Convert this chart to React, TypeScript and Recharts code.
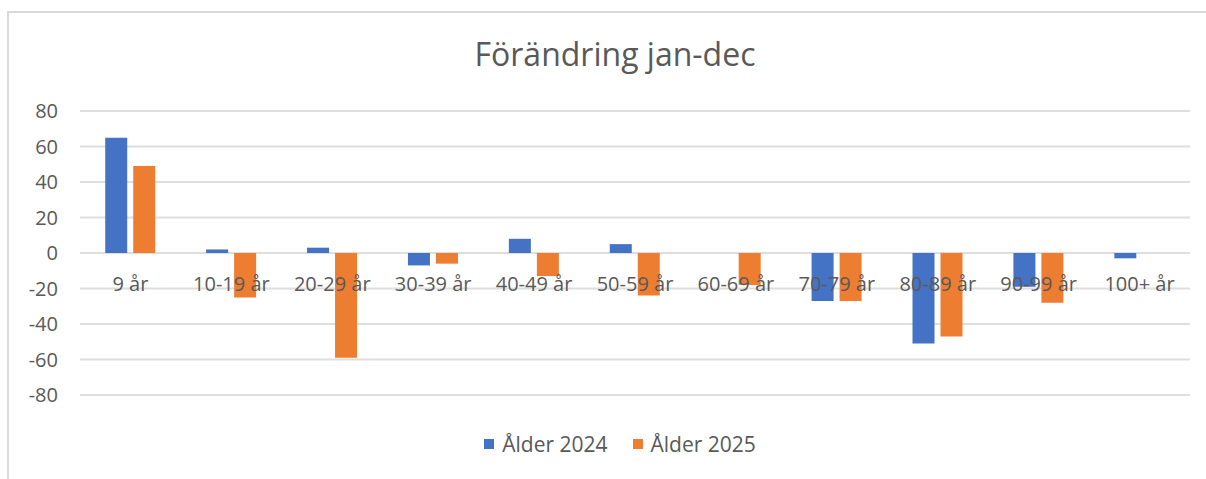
import React from 'react';
import { BarChart, Bar, XAxis, YAxis, CartesianGrid, Legend } from 'recharts';

const categories = ['9 år', '10-19 år', '20-29 år', '30-39 år', '40-49 år', '50-59 år', '60-69 år', '70-79 år', '80-89 år', '90-99 år', '100+ år'];
const alder2024 = [65, 2, 3, -7, 8, 5, 0, -27, -51, -19, -3];
const alder2025 = [49, -25, -59, -6, -13, -24, -18, -27, -47, -28, 0];
const yTicks = [-80, -60, -40, -20, 0, 20, 40, 60, 80];
const seriesNames = ['Ålder 2024', 'Ålder 2025'];

const data = categories.map((name, i) => ({
  name,
  a2024: alder2024[i],
  a2025: alder2025[i],
}));

const W = 1206;
const H = 479;
const margin = { top: 111, right: 16, left: 20, bottom: 54 };
const xAxisHeight = 30;
const plotH = H - margin.top - margin.bottom - xAxisHeight;
const yMin = -80;
const yMax = 80;
const zeroY = margin.top + (plotH * yMax) / (yMax - yMin);
const font = '"Open Sans", sans-serif';
const gray = '#595959';

const CategoryTick = (props: any) => {
  const { x, payload } = props;
  return (
    <text x={x} y={zeroY + 38} textAnchor="middle" fill={gray} fontSize={20} fontFamily={font}>
      {payload.value}
    </text>
  );
};

const LegendContent = (props: any) => {
  const { payload } = props;
  return (
    <div style={{ display: 'flex', justifyContent: 'center', fontFamily: font, fontSize: 21, color: gray }}>
      {(payload || []).map((p: any, i: number) => (
        <div key={i} style={{ display: 'flex', alignItems: 'center', marginRight: i === 0 ? 25 : 0 }}>
          <span style={{ display: 'inline-block', width: 10, height: 10, background: p.color, marginRight: 8 }} />
          <span>{p.value}</span>
        </div>
      ))}
    </div>
  );
};

export default function App() {
  return (
    <div style={{ position: 'absolute', left: 0, top: 0, width: W, height: H, background: '#fff' }}>
      <div
        style={{
          position: 'absolute',
          left: 7,
          top: 11,
          right: 0,
          bottom: 0,
          borderTop: '2px solid #d9d9d9',
          borderLeft: '2px solid #d9d9d9',
        }}
      />
      <div
        style={{
          position: 'absolute',
          left: 0,
          top: 34,
          width: 1230,
          textAlign: 'center',
          fontFamily: font,
          fontSize: 32,
          color: gray,
          lineHeight: '40px',
        }}
      >
        Förändring jan-dec
      </div>
      <div style={{ position: 'absolute', left: 0, top: 0 }}>
        <BarChart width={W} height={H} data={data} margin={margin} barCategoryGap="25%" barGap={6}>
          <CartesianGrid vertical={false} stroke="#dedede" strokeWidth={2} />
          <YAxis
            domain={[yMin, yMax]}
            ticks={yTicks}
            interval={0}
            width={60}
            axisLine={false}
            tickLine={false}
            tickMargin={16}
            tick={{ fill: gray, fontSize: 20, fontFamily: font }}
          />
          <Bar dataKey="a2024" name={seriesNames[0]} fill="#4472C4" isAnimationActive={false} />
          <Bar dataKey="a2025" name={seriesNames[1]} fill="#ED7D31" isAnimationActive={false} />
          <XAxis
            dataKey="name"
            height={xAxisHeight}
            axisLine={false}
            tickLine={false}
            interval={0}
            tick={<CategoryTick />}
          />
          <Legend
            layout="horizontal"
            verticalAlign="middle"
            align="center"
            content={<LegendContent />}
            wrapperStyle={{ top: 430, left: 0, width: 1240 }}
          />
        </BarChart>
      </div>
    </div>
  );
}
